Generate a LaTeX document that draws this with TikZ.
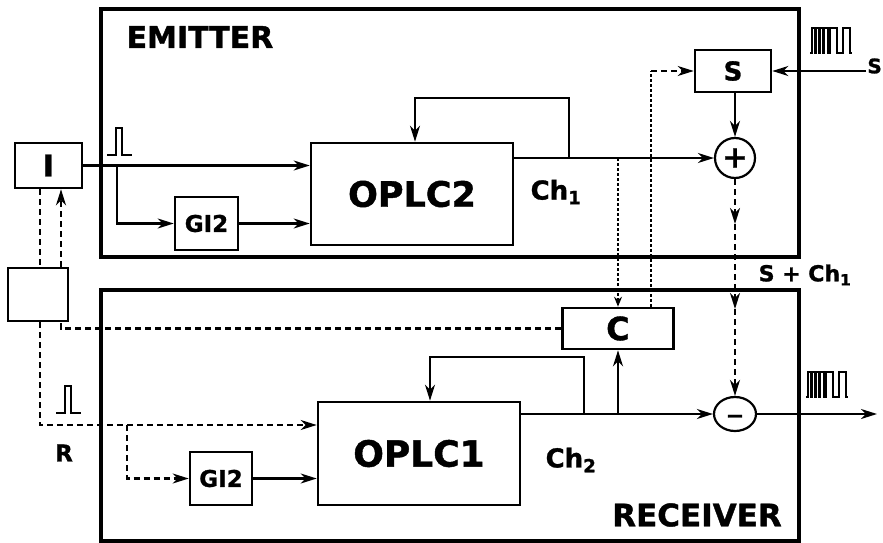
\documentclass[tikz,border=0pt]{standalone}
\usepackage{fontspec}
\setmainfont{DejaVu Sans}
\newfontfamily\heavyfont{DejaVu Sans Bold}[FakeBold=1.2]
\usetikzlibrary{arrows.meta,calc,shapes.geometric}
\begin{document}
\begin{tikzpicture}[x=1pt,y=-1pt,
  frame/.style={draw,line width=3.6pt,minimum width=698pt,inner sep=0pt},
  blk/.style={draw,line width=2.6pt,inner sep=0pt},
  lab/.style={font=\heavyfont\fontsize{#1}{#1}\selectfont,inner sep=0pt},
  wire/.style={line width=2.1pt},
  arrowtip/.style={-{Stealth[length=16pt,width=10pt,inset=5pt]}},
  arr/.style={wire,arrowtip},
  dsh/.style={wire,dash pattern=on 6pt off 4pt},
  dot/.style={line width=1.3pt,dash pattern=on 2.5pt off 2.5pt},
  ptrain/.pic={\draw[line width=2.2pt] (-2,0) -| (0,-25) -| (3,0) -| (4,-25) -| (7,0) -| (8,-25) -| (11,0) -| (12,-25) -| (16,0) -| (18,-25) -| (25,0) -| (31,-25) -| (38,0) -- (40,0);},
  pulse/.pic={\draw[line width=1.8pt] (0,0) -| (9,-27) -| (15,0) -- (25,0);}
]
\useasboundingbox (0,0) rectangle (883,543);

% containers
\node[frame,minimum height=248pt] (emit) at (450,133) {};
\node[frame,minimum height=251pt] (recv) at (450,415.5) {};
\node[lab=30] (emlbl) at (200,37) {EMITTER};
\node[lab=31] (rclbl) at (697,515) {RECEIVER};

% blocks
\node[blk,minimum width=67pt,minimum height=45pt,lab=30] (I) at (48.5,165.5) {I};
\node[blk,minimum width=60pt,minimum height=53pt] (E) at (38,294.5) {};
\node[blk,minimum width=63pt,minimum height=53pt,lab=23] (g2) at (206.5,223.5) {GI2};
\node[blk,minimum width=202pt,minimum height=102pt,lab=35] (op2) at (412,194) {OPLC2};
\node[blk,minimum width=76pt,minimum height=42pt,lab=26] (S) at (733,71) {S};
\node[draw,circle,line width=2.2pt,minimum size=40pt,inner sep=0pt,lab=30] (plus) at (735,158) {+};
\node[blk,minimum width=111pt,minimum height=41pt,lab=32] (C) at (618,328.5) {C};
\node[blk,minimum width=202pt,minimum height=103pt,lab=36] (op1) at (419,453.5) {OPLC1};
\node[blk,minimum width=62pt,minimum height=53pt,lab=23] (g1) at (221,478.5) {GI2};
\node[draw,ellipse,line width=2.2pt,minimum width=42pt,minimum height=34pt,inner sep=0pt] (minus) at (735,414) {};
\node[lab=22] (mtxt) at (735,419) {−};

% labels
\node[lab=26] (ch1) at (556,192) {Ch\textsubscript{1}};
\node[lab=26] (ch2) at (571,460) {Ch\textsubscript{2}};
\node[lab=22] (sch) at (805,275) {S + Ch\textsubscript{1}};
\node[lab=23] (rl) at (64,453) {R};
\node[lab=20,anchor=east] (Sin) at (882,66) {S};

% pulses
\pic at (812,53) {ptrain};
\pic at (808,397) {ptrain};
\pic at (107,155) {pulse};
\pic at (56,413) {pulse};

% emitter connections
\coordinate (b1) at (117,165.5);
\draw[arr] (I.east) -- (I.east -| op2.west);
\draw[arr] (b1) |- (g2.west);
\draw[arr] (g2.east) -- (g2.east -| op2.west);
\draw[arr] (plus.west -| op2.east) -- (plus.west);
\coordinate (f2) at (569,158);
\coordinate (f2t) at (415,98);
\draw[arr] (f2) |- (f2t) -- (f2t |- op2.north);
\draw[arr] (S.south -| plus.north) -- (plus.north);
\coordinate (sinp) at (866,71);
\draw[arr] (sinp) -- (S.east);

% S + Ch1 channel
\coordinate (d1) at (735,224);
\coordinate (d2) at (735,309);
\draw[dsh,arrowtip] (plus.south) -- (d1);
\draw[dsh,arrowtip] (d1) -- (d2);
\draw[dsh,arrowtip] (d2) -- (minus.north);

% key lines
\coordinate (k1) at (618,158);
\draw[dot,-{Stealth[length=10pt,width=8pt]}] (k1) -- (k1 |- C.north);
\coordinate (k2) at (651,71);
\draw[dot] (C.north -| k2) -- (k2);
\draw[dsh,arrowtip] (k2) -- (S.west);

% I <-> E
\coordinate (v1) at (40,0);
\coordinate (v2) at (61,0);
\draw[dsh] (I.south -| v1) -- (E.north -| v1);
\draw[dsh,arrowtip] (E.north -| v2) -- (I.south -| v2);

% receiver input
\coordinate (rr) at (40,425);
\draw[dsh,arrowtip] (E.south -| v1) -- (rr) -- (rr -| op1.west);
\coordinate (b2) at (127,425);
\draw[dsh,arrowtip] (b2) |- (g1.west);
\draw[arr] (g1.east) -- (g1.east -| op1.west);
\draw[dsh] (C.west) -| (E.south -| v2);

% receiver output
\draw[arr] (minus.west -| op1.east) -- (minus.west);
\coordinate (f1) at (584,414);
\coordinate (f1t) at (430,357);
\draw[arr] (f1) |- (f1t) -- (f1t |- op1.north);
\coordinate (k3) at (618,414);
\draw[arr] (k3) -- (C.south);
\coordinate (outp) at (877,414);
\draw[arr] (minus.east) -- (outp);
\end{tikzpicture}
\end{document}
